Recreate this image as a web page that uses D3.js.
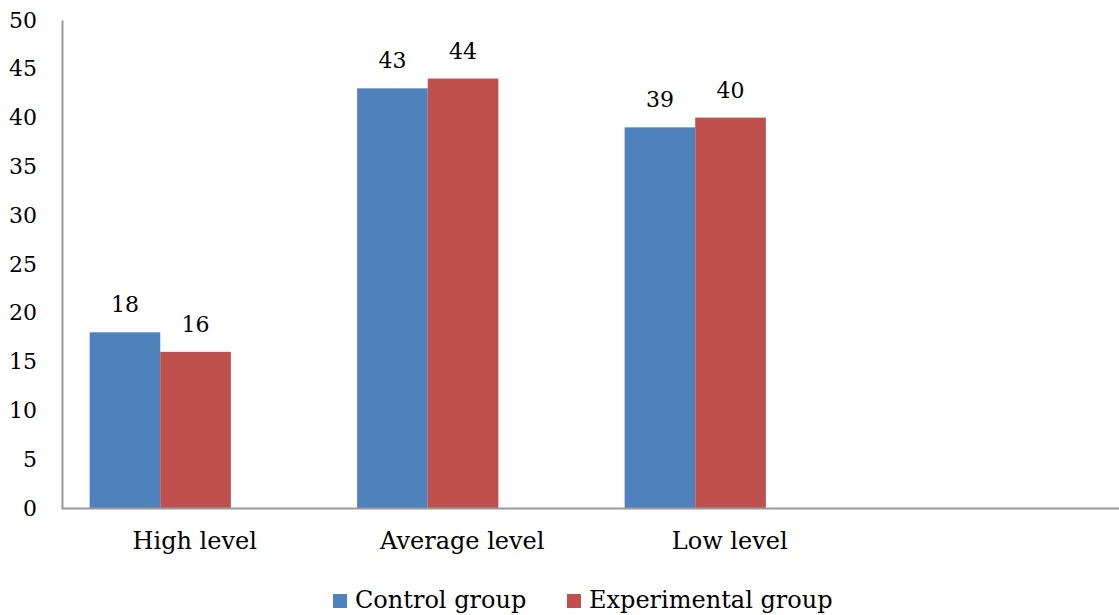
<!DOCTYPE html>
<html><head><meta charset="utf-8">
<script src="https://cdn.jsdelivr.net/npm/d3@7"></script>
<style>body{margin:0;background:#fff}svg{display:block}svg text{font-family:"DejaVu Serif",serif !important;fill:#000}</style>
</head><body><svg id="c" width="1119" height="615"></svg>
<script>
const categories = ["High level", "Average level", "Low level", ""];
const seriesNames = ["Control group", "Experimental group"];
const control = [18, 43, 39, null];
const experimental = [16, 44, 40, null];
const yTicks = [0, 5, 10, 15, 20, 25, 30, 35, 40, 45, 50];
const colors = ["#4F81BD", "#C0504D"];

const svg = d3.select("#c");
const x = d3.scaleBand().domain(categories).range([61, 1131]);
const y = d3.scaleLinear().domain([0, 50]).range([508, 20]);
const bw = x.bandwidth();
const barW = bw * 0.264;
const barOff = bw * 0.107;
const axisColor = "#999999";

// y axis
const yAx = svg.append("g").attr("transform", "translate(62,0)")
  .call(d3.axisLeft(y).tickValues(yTicks).tickSize(0).tickPadding(25));
yAx.select(".domain").attr("stroke", axisColor).attr("stroke-width", 2);
yAx.selectAll("text").attr("font-size", 22);

// bars
const series = [control, experimental];
series.forEach((vals, si) => {
  const data = categories.map((c, i) => ({c, v: vals[i]})).filter(d => d.v != null);
  svg.append("g").selectAll("rect").data(data)
    .join("rect")
    .attr("x", d => x(d.c) + barOff + si * barW)
    .attr("y", d => y(d.v))
    .attr("width", barW)
    .attr("height", d => y(0) - y(d.v))
    .attr("fill", colors[si]);
  svg.append("g").selectAll("text").data(data)
    .join("text")
    .attr("x", d => x(d.c) + barOff + si * barW + barW / 2)
    .attr("y", d => y(d.v) - 20)
    .attr("text-anchor", "middle")
    .attr("font-size", 22)
    .text(d => d.v);
});

// x axis
const xAx = svg.append("g").attr("transform", "translate(0,508)")
  .call(d3.axisBottom(x).tickSize(0).tickPadding(24));
xAx.select(".domain").attr("stroke", axisColor).attr("stroke-width", 2);
xAx.selectAll("text").attr("font-size", 24);

// legend
const legX = [333, 567];
seriesNames.forEach((n, i) => {
  svg.append("rect").attr("x", legX[i]).attr("y", 594).attr("width", 14).attr("height", 14).attr("fill", colors[i]);
  svg.append("text").attr("x", legX[i] + 22).attr("y", 608).attr("font-size", 24).text(n);
});
</script></body></html>
